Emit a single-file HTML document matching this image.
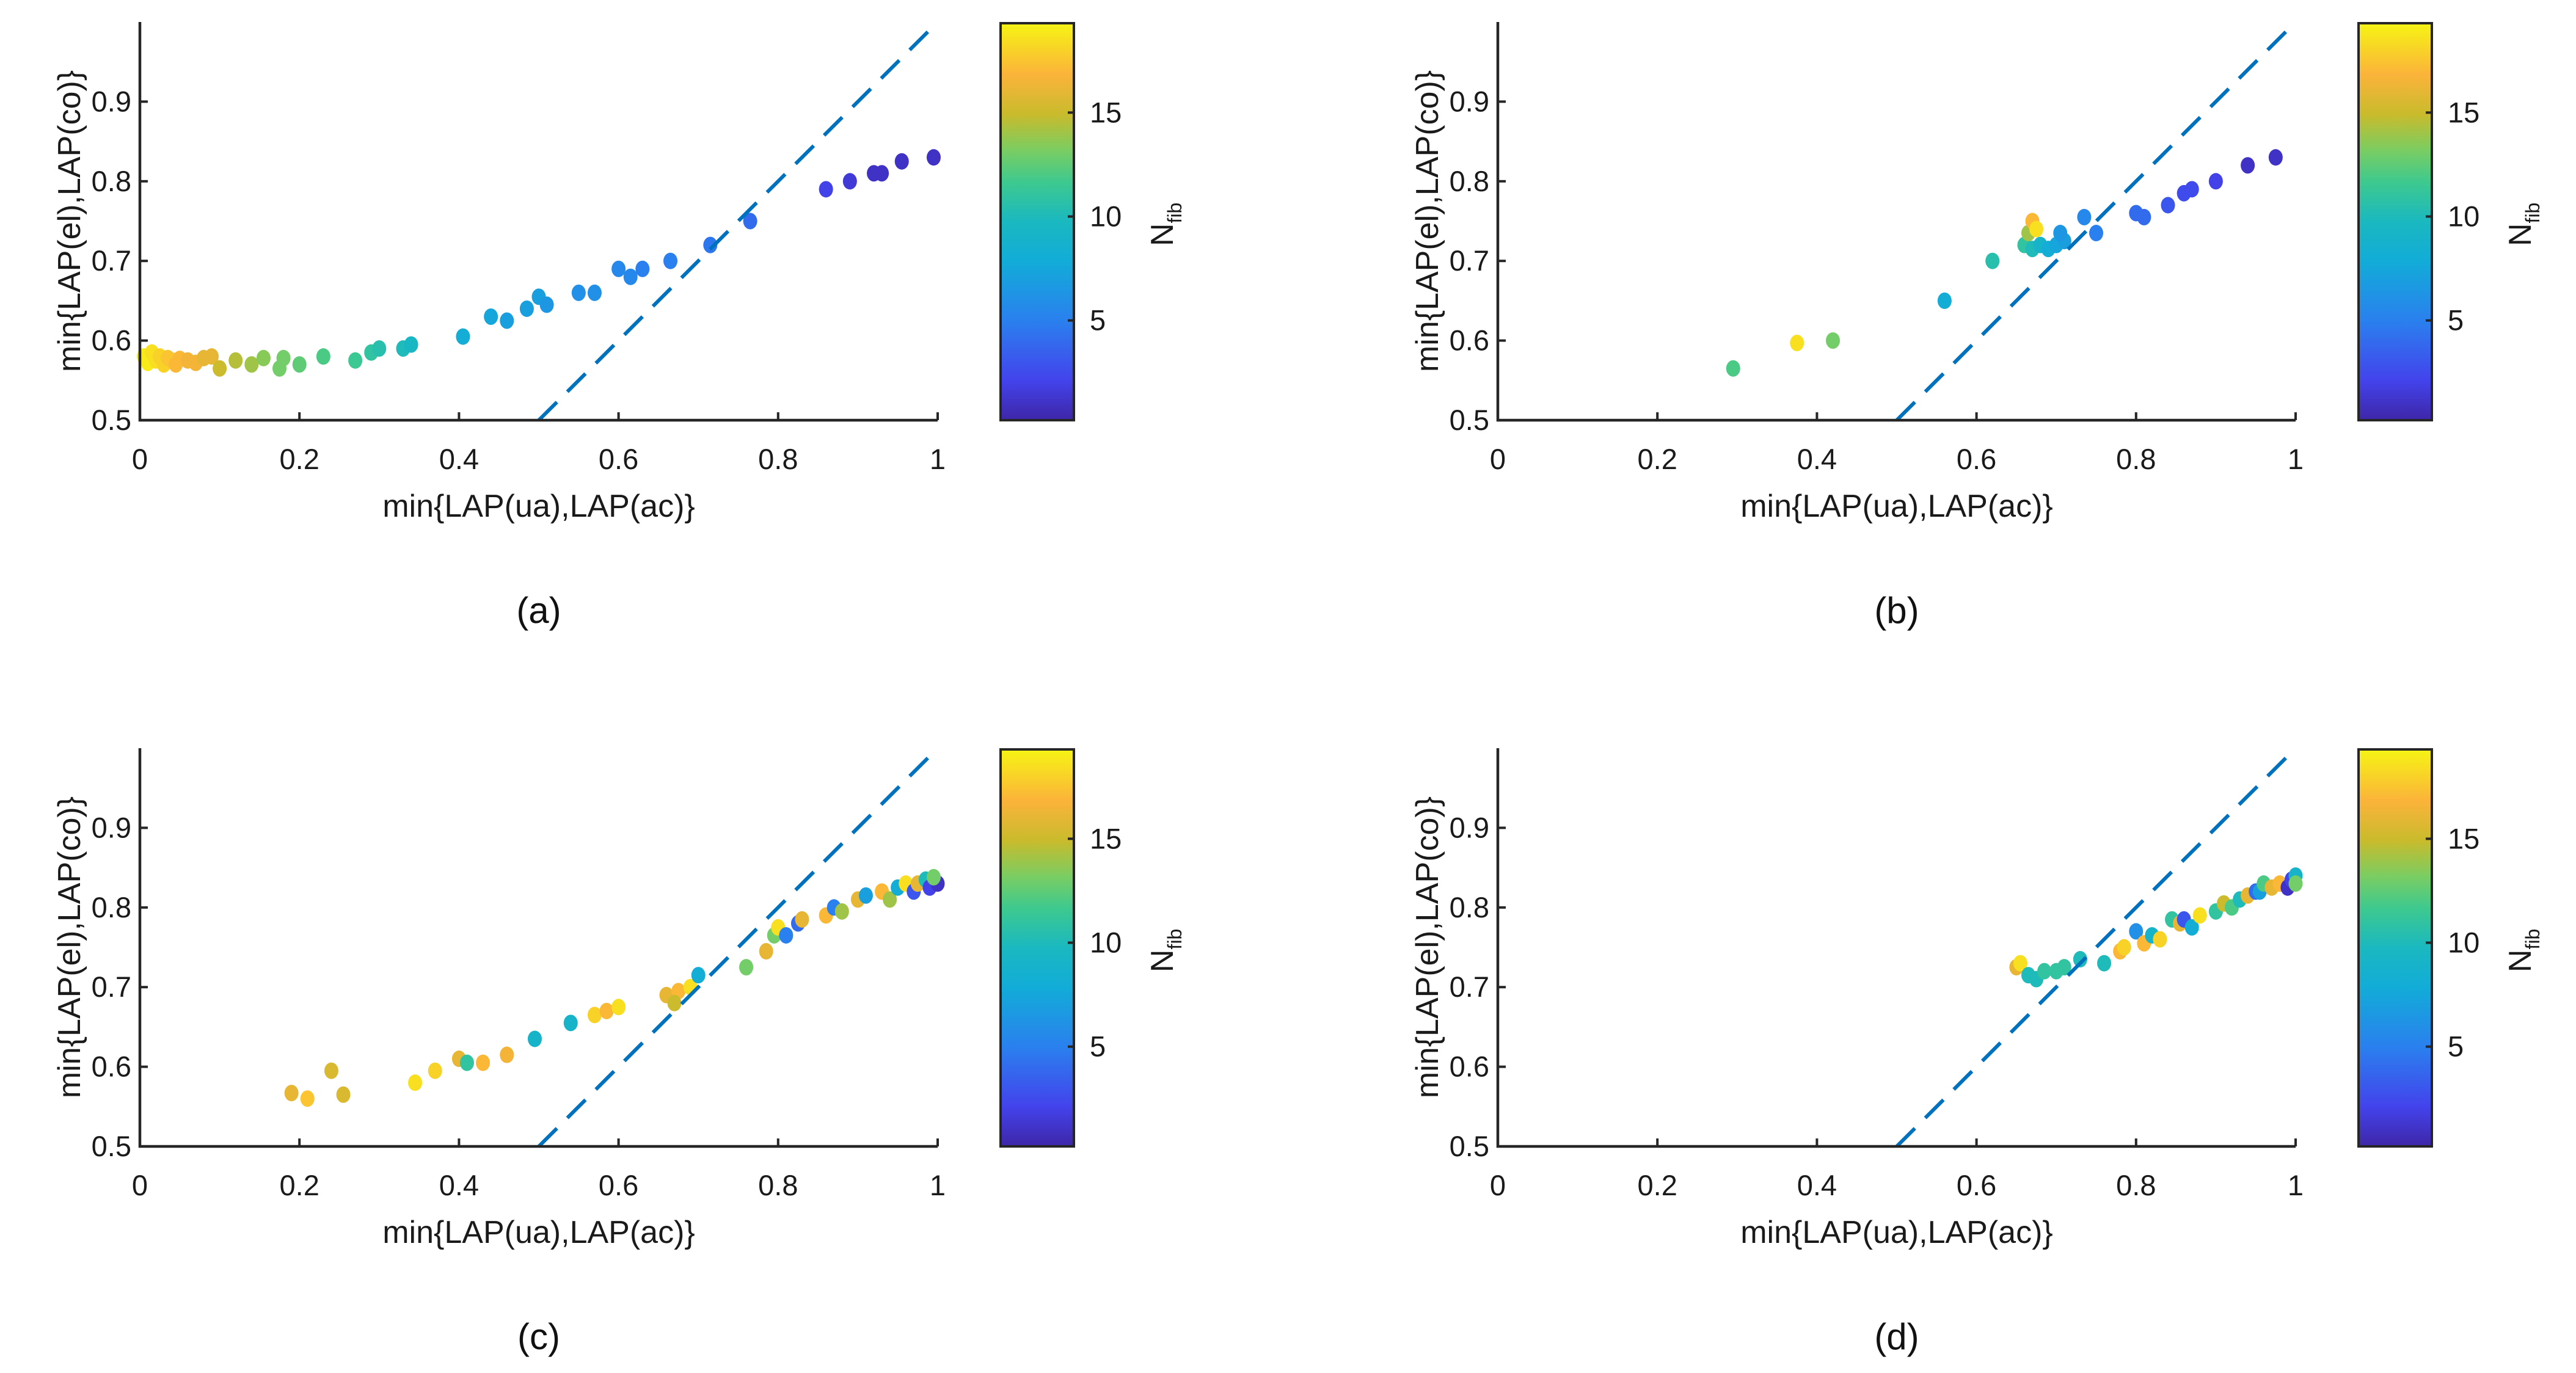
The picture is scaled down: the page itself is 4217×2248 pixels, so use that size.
<!DOCTYPE html>
<html><head><meta charset="utf-8">
<style>
html,body{margin:0;padding:0;background:#fff;}
svg{display:block;}
text{font-family:"Liberation Sans",sans-serif;fill:#1a1a1a;}
.tick{font-size:47px;}
.title{font-size:52px;}
.plab{font-size:60px;fill:#111;}
</style></head>
<body>
<svg id="fig" width="4217" height="2248" viewBox="0 0 4217 2248" xmlns="http://www.w3.org/2000/svg">
<defs>
<linearGradient id="parula" x1="0" y1="1" x2="0" y2="0"></linearGradient>
</defs>
</svg>
<script>
const xTicks=[0,0.2,0.4,0.6,0.8,1];
const yTicks=[0.5,0.6,0.7,0.8,0.9];
const cTicks=[5,10,15];
const cMin=0.2, cMax=19.3;
const panelLabels=["(a)","(b)","(c)","(d)"];
const aX=[0.005,0.01,0.015,0.02,0.025,0.03,0.035,0.04,0.045,0.05,0.06,0.07,0.08,0.09,0.1,0.12,0.14,0.155,0.175,0.18,0.2,0.23,0.27,0.29,0.3,0.33,0.34,0.405,0.44,0.46,0.485,0.5,0.51,0.55,0.57,0.6,0.615,0.63,0.665,0.715,0.765,0.86,0.89,0.92,0.93,0.955,0.995];
const aY=[0.58,0.572,0.585,0.575,0.58,0.57,0.578,0.575,0.57,0.577,0.575,0.572,0.578,0.58,0.565,0.575,0.57,0.578,0.565,0.578,0.57,0.58,0.575,0.585,0.59,0.59,0.595,0.605,0.63,0.625,0.64,0.655,0.645,0.66,0.66,0.69,0.68,0.69,0.70,0.72,0.75,0.79,0.80,0.81,0.81,0.825,0.83];
const aN=[19,19,18.5,18.5,18,18,17.5,17.5,17,17,16.5,16.5,16,16,15,14.5,14,13.5,13,13,12.5,12,11.5,11,10.5,10,9.5,8,7.5,7,7,7,6.5,6,6,5.5,5.5,5,5,4.5,4,2,1.5,1,1,1,1];
const bX=[0.295,0.375,0.42,0.56,0.62,0.66,0.665,0.67,0.675,0.67,0.68,0.69,0.70,0.71,0.705,0.735,0.75,0.80,0.81,0.84,0.86,0.87,0.90,0.94,0.975];
const bY=[0.565,0.597,0.60,0.65,0.70,0.72,0.735,0.75,0.74,0.715,0.72,0.715,0.72,0.725,0.735,0.755,0.735,0.76,0.755,0.77,0.785,0.79,0.80,0.82,0.83];
const bN=[12,18.5,13,8,10.5,11,14,17,18.5,10,9,8,7.5,7,6.5,5.5,5,4,4,3,2.5,2.5,2,1,1];
const cX=[0.19,0.21,0.24,0.255,0.345,0.37,0.40,0.41,0.43,0.46,0.495,0.54,0.57,0.585,0.60,0.66,0.675,0.67,0.69,0.70,0.76,0.785,0.795,0.80,0.81,0.825,0.83,0.86,0.87,0.88,0.90,0.91,0.93,0.94,0.95,0.96,0.97,0.975,0.985,0.99,1.0,0.995];
const cY=[0.567,0.56,0.595,0.565,0.58,0.595,0.61,0.605,0.605,0.615,0.635,0.655,0.665,0.67,0.675,0.69,0.695,0.68,0.70,0.715,0.725,0.745,0.765,0.775,0.765,0.78,0.785,0.79,0.80,0.795,0.81,0.815,0.82,0.81,0.825,0.83,0.82,0.83,0.835,0.825,0.83,0.838];
const cN=[16,17.5,15.5,15.5,18.5,18,16,11,17,16.5,9,9,18,17,18.5,16,17,15,18.5,8,13,16,13,18.5,5,4,16,17,5,14,16,7,17,14,8,18.5,3,16,10,2,1,13];
const dX=[0.65,0.655,0.665,0.675,0.685,0.70,0.71,0.73,0.76,0.78,0.785,0.80,0.81,0.82,0.83,0.845,0.855,0.86,0.87,0.88,0.90,0.91,0.92,0.93,0.94,0.95,0.955,0.96,0.97,0.98,0.99,0.995,1.0,1.0];
const dY=[0.725,0.73,0.715,0.71,0.72,0.72,0.725,0.735,0.73,0.745,0.75,0.77,0.755,0.765,0.76,0.785,0.78,0.785,0.775,0.79,0.795,0.805,0.80,0.81,0.815,0.82,0.82,0.83,0.825,0.83,0.825,0.835,0.84,0.83];
const dN=[16,18.5,10,10,11,11,11,10,10,17,18,6,17,9,18,11,16,3,8,18.5,11,15,12,10,16,4,7,12,16,17,1,2,9,13];
const panels=[[aX,aY,aN],[bX,bY,bN],[cX,cY,cN],[dX,dY,dN]];

const NS="http://www.w3.org/2000/svg";
const svg=document.getElementById('fig');
const stopPos=[0,0.1,0.25,0.4,0.5,0.6,0.68,0.77,0.87,1];
const stopCol=[[62,38,168],[67,67,236],[42,128,238],[18,172,216],[26,184,192],[62,201,143],[122,205,98],[201,187,44],[251,179,58],[246,244,20]];
const grad=document.getElementById('parula');
stopPos.forEach((p,i)=>{const s=document.createElementNS(NS,'stop');s.setAttribute('offset',p);s.setAttribute('stop-color',`rgb(${stopCol[i].join(',')})`);grad.appendChild(s);});
function parula(v){
  const t=Math.max(0,Math.min(1,(v-cMin)/(cMax-cMin)));
  let i=0;while(i<stopPos.length-2&&t>stopPos[i+1])i++;
  const f=(t-stopPos[i])/(stopPos[i+1]-stopPos[i]);
  const c=stopCol[i].map((s,k)=>Math.round(s+(stopCol[i+1][k]-s)*f));
  return `rgb(${c[0]},${c[1]},${c[2]})`;
}
function mk(tag,attrs,parent){const e=document.createElementNS(NS,tag);for(const k in attrs)e.setAttribute(k,attrs[k]);parent.appendChild(e);return e;}

const offsets=[[0,0],[2223,0],[0,1189],[2223,1189]];
panels.forEach((p,pi)=>{
  const [ox,oy]=offsets[pi];
  const L=229+ox,R=1535+ox,B=688+oy,T=36+oy;
  const sx=v=>L+(v-0)*(R-L);
  const sy=v=>B-(v-0.5)/0.5*(B-T);
  const g=mk('g',{},svg);
  
  
  const pg=mk('g',{},g);
  
  
  const [X,Y,N]=p;
  X.forEach((x,i)=>{
    const c=mk('ellipse',{cx:sx(x),cy:sy(Y[i]),rx:11.5,ry:13.5,fill:parula(N[i])},pg);
    
    
  });
  const dl=mk('line',{x1:sx(0.5),y1:sy(0.5),x2:sx(1),y2:sy(1),stroke:'#0072BD','stroke-width':6,'stroke-dasharray':'42 24'},g);
  
  
  const ax=mk('path',{d:`M${L},${T} L${L},${B} L${R},${B}`,fill:'none',stroke:'#262626','stroke-width':4.5},g);
  
  
  xTicks.forEach(t=>{
    mk('line',{x1:sx(t),y1:B,x2:sx(t),y2:B-13,stroke:'#262626','stroke-width':4},g);
    const tx=mk('text',{x:sx(t),y:B+80,'text-anchor':'middle',class:'tick'},g);
    tx.textContent=String(t);
    
    
  });
  yTicks.forEach(t=>{
    mk('line',{x1:L,y1:sy(t),x2:L+13,y2:sy(t),stroke:'#262626','stroke-width':4},g);
    const tx=mk('text',{x:L-14,y:sy(t)+16,'text-anchor':'end',class:'tick'},g);
    tx.textContent=t.toFixed(1);
    
    
  });
  const xt=mk('text',{x:(L+R)/2,y:B+158,'text-anchor':'middle',class:'title'},g);
  xt.textContent='min{LAP(ua),LAP(ac)}';
  
  
  const yt=mk('text',{x:0,y:0,'text-anchor':'middle',class:'title',transform:`translate(${131+ox},${(T+B)/2}) rotate(-90)`},g);
  yt.textContent='min{LAP(el),LAP(co)}';
  
  
  const cL=1638+ox,cR=1758+ox,cT=38+oy,cB=688+oy;
  const cy=v=>cB-(v-cMin)/(cMax-cMin)*(cB-cT);
  const cb=mk('rect',{x:cL,y:cT,width:cR-cL,height:cB-cT,fill:'url(#parula)',stroke:'#262626','stroke-width':4},g);
  
  
  cTicks.forEach(t=>{
    mk('line',{x1:cR,y1:cy(t),x2:cR-10,y2:cy(t),stroke:'#262626','stroke-width':4},g);
    const tx=mk('text',{x:cR+26,y:cy(t)+16,class:'tick'},g);
    tx.textContent=String(t);
    
    
  });
  const nl=mk('text',{x:0,y:0,class:'title',transform:`translate(${1920+ox},${(cT+cB)/2+40}) rotate(-90)`},g);
  nl.innerHTML='N<tspan font-size="32" dy="14">fib</tspan>';
  
  
  const pl=mk('text',{x:882+ox,y:1020+oy,'text-anchor':'middle',class:'plab'},g);
  pl.textContent=panelLabels[pi];
  
  
});
</script>
</body></html>
